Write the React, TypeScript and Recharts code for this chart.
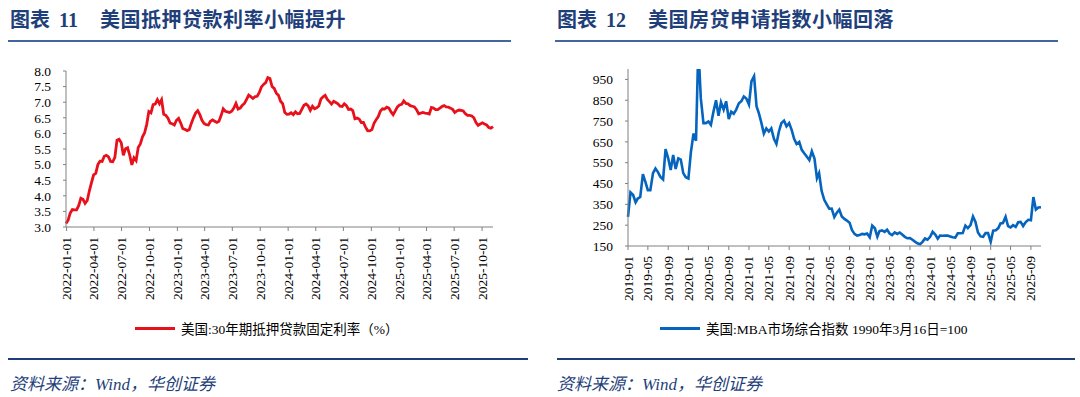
import { LineChart, Line, XAxis, YAxis } from "recharts";

// 美国30年期抵押贷款固定利率（%），周度，自2021-12-30起
const RATE_START = "2021-12-30";
const rateValues = [
  3.11,
  3.22, 3.45, 3.56, 3.55, 3.55, 3.69, 3.92, 3.89, 3.76, 3.85, 4.16, 4.42, 4.67,
  4.72, 5.0, 5.11, 5.1, 5.27, 5.3, 5.25, 5.1, 5.09, 5.23, 5.78, 5.81, 5.7,
  5.3, 5.51, 5.54, 5.3, 4.99, 5.22, 5.13, 5.55, 5.66, 5.89, 6.02, 6.29, 6.7,
  6.66, 6.92, 6.94, 7.08, 6.95, 7.08, 6.61, 6.58, 6.49, 6.33, 6.31, 6.27, 6.42,
  6.48, 6.33, 6.15, 6.13, 6.09, 6.12, 6.32, 6.5, 6.65, 6.73, 6.6, 6.42, 6.32,
  6.28, 6.27, 6.39, 6.43, 6.39, 6.35, 6.39, 6.57, 6.79, 6.71, 6.69, 6.67, 6.71,
  6.81, 6.96, 6.78, 6.81, 6.9, 6.96, 7.09, 7.23, 7.18, 7.12, 7.18, 7.19, 7.31,
  7.49, 7.57, 7.63, 7.79, 7.76, 7.5, 7.44, 7.29, 7.22, 7.03, 6.95, 6.67, 6.61,
  6.62, 6.66, 6.6, 6.69, 6.63, 6.64, 6.77, 6.9, 6.94, 6.88, 6.74, 6.87, 6.79,
  6.82, 6.88, 7.1, 7.17, 7.22, 7.09, 7.02, 6.94, 7.03, 6.99, 6.95, 6.87, 6.86,
  6.95, 6.89, 6.77, 6.78, 6.73, 6.47, 6.49, 6.46, 6.35, 6.35, 6.2, 6.09, 6.08,
  6.12, 6.32, 6.44, 6.54, 6.72, 6.79, 6.78, 6.84, 6.81, 6.69, 6.6, 6.72, 6.85,
  6.91, 6.93, 7.04, 6.96, 6.95, 6.89, 6.87, 6.85, 6.76, 6.63, 6.65, 6.67, 6.65,
  6.64, 6.62, 6.83, 6.81, 6.76, 6.76, 6.81, 6.86, 6.89, 6.85, 6.84, 6.81, 6.77,
  6.67, 6.72, 6.75, 6.74, 6.72, 6.63, 6.58, 6.58, 6.56, 6.5, 6.35, 6.26, 6.3,
  6.34, 6.3, 6.27, 6.19, 6.17, 6.22,
];
const rateTicks = [
  "2022-01-01", "2022-04-01", "2022-07-01", "2022-10-01",
  "2023-01-01", "2023-04-01", "2023-07-01", "2023-10-01",
  "2024-01-01", "2024-04-01", "2024-07-01", "2024-10-01",
  "2025-01-01", "2025-04-01", "2025-07-01", "2025-10-01",
];
const rateYTicks = [3.0, 3.5, 4.0, 4.5, 5.0, 5.5, 6.0, 6.5, 7.0, 7.5, 8.0];

// MBA市场综合指数，半月取值，自2019-01起
const mbaValues = [
  290, 408, 395, 360, 378, 385, 495, 458,
  418, 418, 500, 522, 505, 482, 470, 615,
  571, 515, 587, 520, 571, 565, 500, 480,
  474, 600, 690, 655, 1110, 860, 740, 740,
  748, 732, 797, 850, 775, 840, 805, 845,
  760, 795, 785, 805, 835, 845, 868, 858,
  829, 940, 965, 820, 790, 745, 690, 715,
  700, 715, 665, 640, 700, 740, 752, 725,
  740, 708, 665, 640, 650, 612, 595, 580,
  563, 605, 570, 475, 500, 415, 372, 350,
  329, 330, 289, 310, 325, 292, 280, 272,
  262, 226, 208, 200, 203, 208, 206, 210,
  192, 248, 235, 195, 222, 225, 218, 228,
  210, 202, 215, 208, 215, 205, 194, 187,
  188, 180, 171, 163, 158, 170, 186, 180,
  194, 218, 205, 185, 200, 199, 200, 200,
  196, 192, 190, 211, 211, 212, 248, 236,
  250, 292, 266, 215, 196, 194, 212, 212,
  170, 224, 226, 236, 258, 260, 290, 245,
  239, 250, 242, 264, 266, 246, 265, 276,
  274, 385, 325, 335, 336,
];
const mbaTicks = [
  "2019-01", "2019-05", "2019-09", "2020-01", "2020-05", "2020-09", "2021-01",
  "2021-05", "2021-09", "2022-01", "2022-05", "2022-09", "2023-01", "2023-05",
  "2023-09", "2024-01", "2024-05", "2024-09", "2025-01", "2025-05", "2025-09",
];
const mbaYTicks = [150, 250, 350, 450, 550, 650, 750, 850, 950];

const DAY = 86400000;
const rateData = rateValues.map((v, i) => ({ t: Date.parse(RATE_START) + i * 7 * DAY, v }));
const mbaData = mbaValues.map((v, i) => ({
  t: Date.UTC(2019, Math.floor(i / 2), i % 2 ? 16 : 1),
  v,
}));

const SERIF = "'Liberation Serif', 'Noto Sans CJK SC', serif";
const TITLE_BLUE = "#1f3f7a";
const AXIS = "#808080";

const RotTick = (props: any) => {
  const { x, y, payload, fmt } = props;
  return (
    <text
      x={x}
      y={y}
      transform={`rotate(-90 ${x} ${y})`}
      textAnchor="end"
      dominantBaseline="central"
      fontSize={13.5}
      fontFamily={SERIF}
      fill="#000"
    >
      {fmt(payload.value)}
    </text>
  );
};

const fmtDay = (t: number) => new Date(t).toISOString().slice(0, 10);
const fmtMonth = (t: number) => new Date(t).toISOString().slice(0, 7);

function Title({ left, no, text }: { left: number; no: string; text: string }) {
  return (
    <div
      style={{
        position: "absolute",
        left,
        top: 8,
        height: 24,
        lineHeight: "24px",
        fontSize: 20,
        fontWeight: "bold",
        color: TITLE_BLUE,
        fontFamily: SERIF,
        whiteSpace: "nowrap",
      }}
    >
      <span>图表</span>
      <span style={{ marginLeft: 9 }}>{no}</span>
      <span style={{ marginLeft: 22, letterSpacing: 0.5 }}>{text}</span>
    </div>
  );
}

function LegendItem({ left, color, text }: { left: number; color: string; text: string }) {
  return (
    <div
      style={{
        position: "absolute",
        left,
        top: 318,
        height: 20,
        display: "flex",
        alignItems: "center",
        fontFamily: SERIF,
        fontSize: 13.5,
        color: "#000",
        whiteSpace: "nowrap",
      }}
    >
      <div style={{ width: 40, height: 3, background: color, marginRight: 6 }} />
      <span>{text}</span>
    </div>
  );
}

function Rule({ left, top, width, height, color }: any) {
  return <div style={{ position: "absolute", left, top, width, height, background: color }} />;
}

function Source({ left }: { left: number }) {
  return (
    <div
      style={{
        position: "absolute",
        left,
        top: 370,
        fontFamily: SERIF,
        fontStyle: "italic",
        fontSize: 17,
        color: TITLE_BLUE,
        whiteSpace: "nowrap",
      }}
    >
      资料来源：Wind，华创证券
    </div>
  );
}

export default function App() {
  const rateT = rateTicks.map((d) => Date.parse(d));
  const mbaT = mbaTicks.map((d) => Date.parse(d + "-01"));
  return (
    <div
      style={{
        position: "absolute",
        left: 0,
        top: 0,
        width: 1080,
        height: 397,
        background: "#fff",
        overflow: "hidden",
      }}
    >
      <Title left={10} no="11" text="美国抵押贷款利率小幅提升" />
      <Title left={557} no="12" text="美国房贷申请指数小幅回落" />
      <Rule left={8} top={40} width={503} height={2} color="#41679f" />
      <Rule left={555} top={40} width={503} height={2} color="#41679f" />

      <div style={{ position: "absolute", left: 0, top: 0 }}>
        <LineChart width={540} height={310} data={rateData} margin={{ top: 71, right: 47, bottom: 3, left: 16 }}>
          <XAxis
            dataKey="t"
            type="number"
            domain={[rateData[0].t, rateData[rateData.length - 1].t]}
            ticks={rateT}
            height={80}
            stroke={AXIS}
            tickSize={4}
            tickMargin={6}
            interval={0}
            tick={(p: any) => <RotTick {...p} fmt={fmtDay} />}
          />
          <YAxis
            type="number"
            domain={[3, 8]}
            ticks={rateYTicks}
            width={50}
            stroke={AXIS}
            tickSize={3}
            tickMargin={12}
            interval={0}
            tickFormatter={(v: number) => v.toFixed(1)}
            tick={{ fill: "#000", fontSize: 13.5, fontFamily: SERIF }}
          />
          <Line
            dataKey="v"
            type="linear"
            stroke="#e8111b"
            strokeWidth={2.8}
            dot={false}
            isAnimationActive={false}
          />
        </LineChart>
      </div>

      <div style={{ position: "absolute", left: 540, top: 0 }}>
        <LineChart width={540} height={310} data={mbaData} margin={{ top: 69, right: 39, bottom: 4, left: 38 }}>
          <XAxis
            dataKey="t"
            type="number"
            domain={[mbaData[0].t, mbaData[mbaData.length - 1].t]}
            ticks={mbaT}
            height={60}
            stroke={AXIS}
            tickSize={4}
            tickMargin={6}
            interval={0}
            tick={(p: any) => <RotTick {...p} fmt={fmtMonth} />}
          />
          <YAxis
            type="number"
            domain={[150, 1000]}
            allowDataOverflow
            ticks={mbaYTicks}
            width={50}
            stroke={AXIS}
            tickSize={3}
            tickMargin={12}
            interval={0}
            tick={{ fill: "#000", fontSize: 13.5, fontFamily: SERIF }}
          />
          <Line
            dataKey="v"
            type="linear"
            stroke="#0564be"
            strokeWidth={2.6}
            dot={false}
            isAnimationActive={false}
          />
        </LineChart>
      </div>

      <LegendItem left={135} color="#e8111b" text="美国:30年期抵押贷款固定利率（%）" />
      <LegendItem left={660} color="#0564be" text="美国:MBA市场综合指数 1990年3月16日=100" />

      <Rule left={8} top={358} width={520} height={2} color="#1f3f7a" />
      <Rule left={557} top={358} width={518} height={2} color="#1f3f7a" />
      <Source left={10} />
      <Source left={557} />
    </div>
  );
}
